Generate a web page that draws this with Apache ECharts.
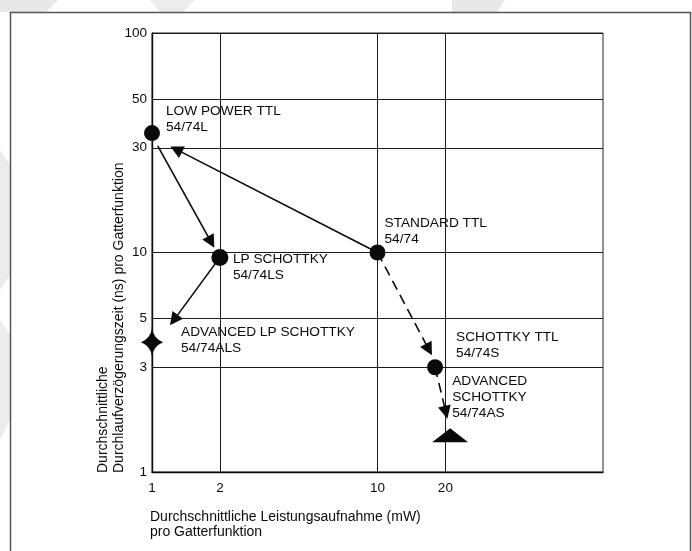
<!DOCTYPE html>
<html><head><meta charset="utf-8">
<script src="https://cdn.jsdelivr.net/npm/echarts@6/dist/echarts.min.js"></script>
<style>html,body{margin:0;padding:0;background:#fff}#c{width:692px;height:551px}</style>
</head><body><div id="c"></div>
<script>
// ---- data ----
const xTicks = [1, 2, 10, 20];
const yTicks = [1, 3, 5, 10, 30, 50, 100];
const familyNames = ['LOW POWER TTL\n54/74L', 'LP SCHOTTKY\n54/74LS', 'STANDARD TTL\n54/74',
  'ADVANCED LP SCHOTTKY\n54/74ALS', 'SCHOTTKY TTL\n54/74S', 'ADVANCED\nSCHOTTKY\n54/74AS'];
const powerMW = [1, 2, 10, 1, 18, 21];
const delayNs = [35, 9.5, 10, 3.9, 3, 1.47];
const solidArrows = [
  [[1.06, 30.6], [1.83, 11.15]],
  [[10, 10], [1.28, 29.5]],
  [[2, 9.5], [1.25, 4.92]]
];
const dashedArrows = [
  [[10, 10], [16.9, 3.61]],
  [[18, 3], [20.1, 1.87]]
];
const xTitle = 'Durchschnittliche Leistungsaufnahme (mW)\npro Gatterfunktion';
const yTitle = 'Durchschnittliche\nDurchlaufverzögerungszeit (ns) pro Gatterfunktion';

// ---- styles ----
const FONT = '"Liberation Sans", Arial, Helvetica, sans-serif';
const INK = '#0a0a0a';
const starPath = 'path://M0,-14 Q1.5,-4 11,0 Q1.5,4 0,14 Q-1.5,4 -11,0 Q-1.5,-4 0,-14 Z';
const markerSymbols = ['circle', 'circle', 'circle', starPath, 'circle', 'triangle'];
const markerSizes = [16, 17, 16, [22, 28], 16, [36, 14]];
const labelOffsets = [[14, -30], [13, -6], [7, -37], [29, -18], [21, -38], [2, -62]];

const scatterData = powerMW.map((x, i) => ({
  value: [x, delayNs[i]],
  name: familyNames[i],
  symbol: markerSymbols[i],
  symbolSize: markerSizes[i],
  label: { offset: labelOffsets[i] }
}));

const chart = echarts.init(document.getElementById('c'), null, { renderer: 'canvas' });
chart.setOption({
  animation: false,
  backgroundColor: '#fff',
  grid: { left: 152, top: 33, width: 451, height: 439, show: true, borderColor: '#222', borderWidth: 1, containLabel: false },
  xAxis: {
    type: 'log', logBase: 10, min: 1, max: 100,
    axisLine: { show: true, onZero: false, lineStyle: { color: INK, width: 1.4 } },
    axisTick: { show: false, customValues: xTicks },
    axisLabel: { customValues: xTicks, color: INK, fontSize: 13.5, fontFamily: FONT, margin: 9 },
    splitLine: { show: true, lineStyle: { color: '#1a1a1a', width: 1 } }
  },
  yAxis: {
    type: 'log', logBase: 10, min: 1, max: 100,
    axisLine: { show: true, onZero: false, lineStyle: { color: INK, width: 1.4 } },
    axisTick: { show: false, customValues: yTicks },
    axisLabel: { customValues: yTicks, color: INK, fontSize: 13.5, fontFamily: FONT, margin: 5 },
    splitLine: { show: true, lineStyle: { color: '#1a1a1a', width: 1 } }
  },
  series: [
    {
      type: 'lines', coordinateSystem: 'cartesian2d', z: 2,
      symbol: ['none', 'triangle'], symbolSize: [9, 13],
      lineStyle: { color: INK, width: 1.6, opacity: 1 },
      data: solidArrows.map(c => ({ coords: c }))
    },
    {
      type: 'lines', coordinateSystem: 'cartesian2d', z: 2,
      symbol: ['none', 'triangle'], symbolSize: [9, 13],
      lineStyle: { color: INK, width: 1.6, type: [10, 6], opacity: 1 },
      data: dashedArrows.map(c => ({ coords: c }))
    },
    {
      type: 'scatter', z: 3,
      itemStyle: { color: INK, opacity: 1 },
      label: {
        show: true, position: 'inside', align: 'left', verticalAlign: 'top',
        formatter: p => p.name, color: INK, fontSize: 13.7, lineHeight: 16, fontFamily: FONT
      },
      emphasis: { disabled: true },
      data: scatterData
    }
  ],
  graphic: [
    { type: 'polygon', z: -10, shape: { points: [[0, 0], [58, 0], [46, 12], [0, 12]] }, style: { fill: '#e8e8e8' } },
    { type: 'polygon', z: -10, shape: { points: [[150, 0], [195, 0], [183, 12], [160, 12]] }, style: { fill: '#ececec' } },
    { type: 'polygon', z: -10, shape: { points: [[452, 0], [505, 0], [497, 12], [452, 12]] }, style: { fill: '#e8e8e8' } },
    { type: 'polygon', z: -10, shape: { points: [[0, 150], [10, 165], [10, 275], [0, 290]] }, style: { fill: '#ececec' } },
    { type: 'polygon', z: -10, shape: { points: [[0, 320], [10, 335], [10, 420], [0, 440]] }, style: { fill: '#ececec' } },
    { type: 'rect', z: 10, shape: { x: 10.5, y: 12.5, width: 680, height: 560 }, style: { fill: 'none', stroke: '#555', lineWidth: 1.5 } },
    {
      type: 'text', z: 10, x: 150, y: 510,
      style: { text: xTitle, font: '14px ' + FONT, fill: INK, lineHeight: 15, align: 'left', verticalAlign: 'top', textAlign: 'left', textVerticalAlign: 'top' }
    },
    {
      type: 'text', z: 10, x: 111, y: 473, rotation: Math.PI / 2,
      style: { text: yTitle, font: '14px ' + FONT, fill: INK, lineHeight: 15.5, align: 'left', verticalAlign: 'middle', textAlign: 'left', textVerticalAlign: 'middle' }
    }
  ]
});
</script>
</body></html>
